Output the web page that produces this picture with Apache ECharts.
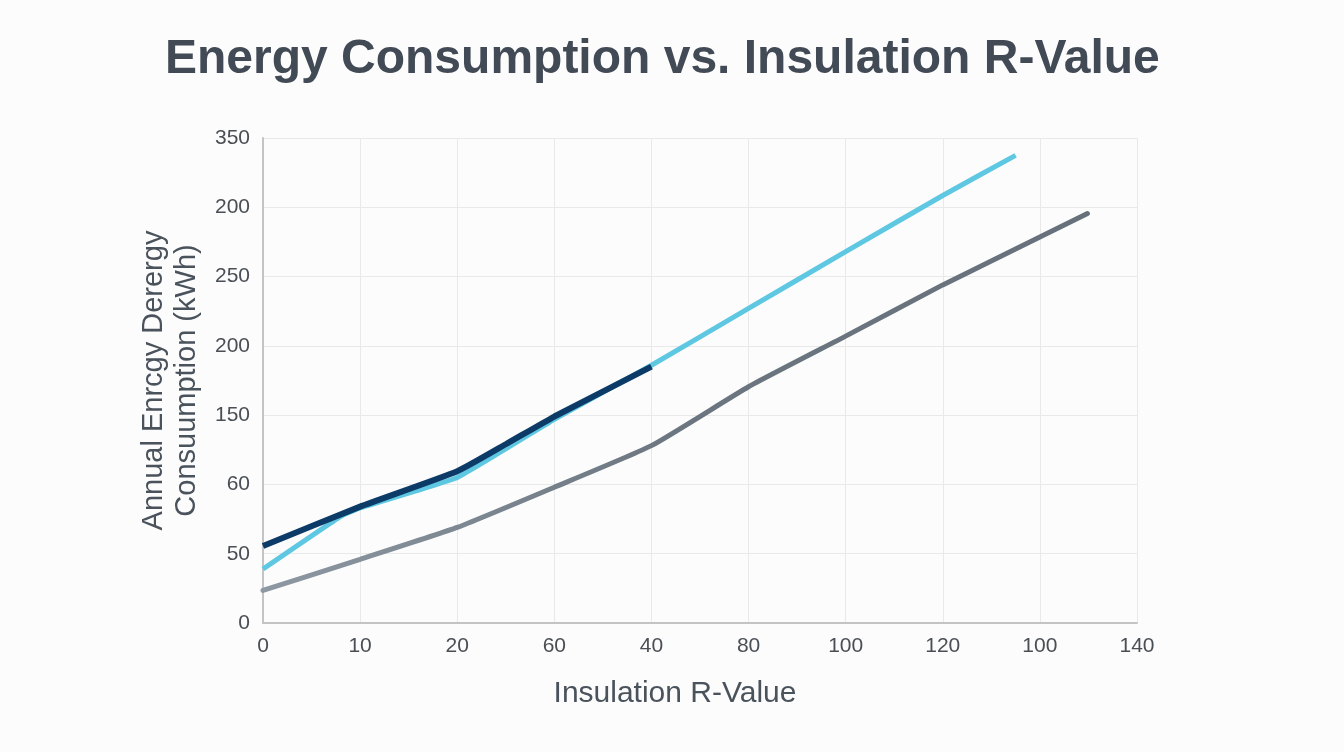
<!DOCTYPE html>
<html>
<head>
<meta charset="utf-8">
<script src="https://cdn.jsdelivr.net/npm/echarts@6/dist/echarts.min.js"></script>
<style>
html,body{margin:0;padding:0;background:#fcfcfc;}
#chart{width:1344px;height:752px;}
</style>
</head>
<body>
<div id="chart"></div>
<script>
// Tick labels as printed on the reference (positions are evenly spaced)
var xTickLabels = ['0','10','20','60','40','80','100','120','100','140'];
var yTickLabels = ['0','50','60','150','200','250','200','350'];

// Series values in tick-position units: [x position, y position]
var darkSeries = [[0,1.11],[1,1.68],[2,2.19],[2.5,2.58],[3,2.98],[4,3.70]];
var cyanSeries = [[0,0.78],[0.8,1.54],[1,1.66],[2,2.10],[3,2.94],[4,3.72],[5,4.54],[6,5.36],[7,6.17],[7.75,6.75]];
var graySeries = [[0,0.47],[1,0.92],[2,1.38],[3,1.96],[4,2.56],[5,3.41],[6,4.14],[7,4.88],[8,5.57],[8.49,5.91]];

var chart = echarts.init(document.getElementById('chart'));
chart.setOption({
  backgroundColor: '#fcfcfc',
  animation: false,
  title: {
    text: 'Energy Consumption vs. Insulation R-Value',
    left: 160,
    top: 31,
    textStyle: {fontFamily: 'Liberation Sans', fontSize: 48, fontWeight: 'bold', color: '#414a55'}
  },
  grid: {left: 263, right: 207, top: 138, bottom: 129},
  xAxis: {
    type: 'value', min: 0, max: 9, interval: 1,
    name: 'Insulation R-Value', nameLocation: 'middle', nameGap: 56,
    nameTextStyle: {fontFamily: 'Liberation Sans', fontSize: 30, color: '#4a525c', padding: [0, 50, 0, 0]},
    axisLine: {show: true, lineStyle: {color: '#c4c4c4', width: 2}},
    axisTick: {show: false},
    axisLabel: {
      margin: 13, fontFamily: 'Liberation Sans', fontSize: 21, color: '#4a4f55',
      formatter: function (v) { return xTickLabels[Math.round(v)]; }
    },
    splitLine: {show: true, lineStyle: {color: '#e9e9e9', width: 1}}
  },
  yAxis: {
    type: 'value', min: 0, max: 7, interval: 1,
    name: 'Annual Enrcgy Derergy\nConsuumption (kWh)', nameLocation: 'middle', nameGap: 60, nameRotate: 90,
    nameTextStyle: {fontFamily: 'Liberation Sans', fontSize: 29, color: '#4a525c', lineHeight: 33},
    axisLine: {show: true, lineStyle: {color: '#c4c4c4', width: 2}},
    axisTick: {show: false},
    axisLabel: {
      margin: 13, fontFamily: 'Liberation Sans', fontSize: 21, color: '#4a4f55',
      formatter: function (v) { return yTickLabels[Math.round(v)]; }
    },
    splitLine: {show: true, lineStyle: {color: '#e9e9e9', width: 1}}
  },
  series: [
    {
      type: 'line', data: graySeries, showSymbol: false, smooth: 0.15,
      lineStyle: {width: 5, cap: 'round', color: {
        type: 'linear', x: 0, y: 0, x2: 1, y2: 0,
        colorStops: [{offset: 0, color: '#8d98a2'}, {offset: 0.5, color: '#6b7680'}, {offset: 1, color: '#66717b'}]
      }}
    },
    {
      type: 'line', data: cyanSeries, showSymbol: false, smooth: 0.1,
      lineStyle: {width: 5, color: '#5ec8e2'}
    },
    {
      type: 'line', data: darkSeries, showSymbol: false, smooth: 0.15,
      lineStyle: {width: 6, color: '#0d3b68'}
    }
  ]
});
</script>
</body>
</html>
